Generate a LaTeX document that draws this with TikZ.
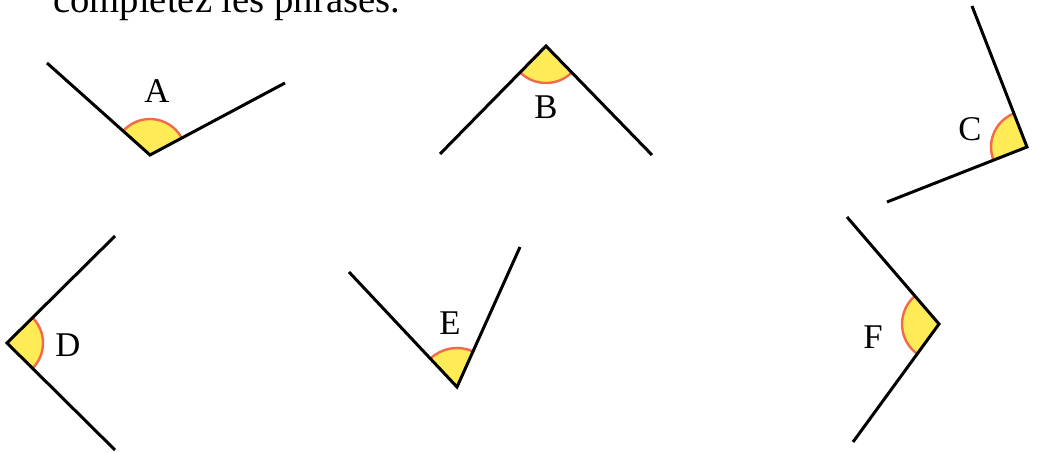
\documentclass[tikz,border=0pt]{standalone}
\usepackage{fontspec}
\setmainfont{Liberation Serif}
\definecolor{secfill}{HTML}{FFEB55}
\definecolor{secline}{HTML}{F26A4B}
\tikzset{
  ray/.style={line width=2.25pt, draw=black, line cap=butt},
  arcline/.style={line width=1.8pt, draw=secline},
  secarea/.style={fill=secfill},
  lbl/.style={font=\fontsize{26}{30}\selectfont, inner sep=0pt},
}
\newcommand\angmark[4]{%
  \fill[secarea] (#1) -- ++(#2:#4) arc[start angle=#2, end angle=#3, radius=#4] -- cycle;
  \draw[arcline] (#1) ++(#2:#4) arc[start angle=#2, end angle=#3, radius=#4];
}
\begin{document}
\begin{tikzpicture}[x=0.75pt, y=0.75pt]
\useasboundingbox (0,0) rectangle (1038,453);
\node[anchor=base west, inner sep=0pt, font=\fontsize{29}{34}\selectfont] (title) at (53,440) {complétez les phrases.};
% A
\coordinate (Av) at (150,298); \coordinate (Al) at (47,390); \coordinate (Ar) at (285,370);
\angmark{Av}{28.1}{138.2}{27pt}
\draw[ray] (Al) -- (Av) -- (Ar);
\node[lbl] (A) at (157,362) {A};
% B
\coordinate (Bv) at (546,407); \coordinate (Bl) at (440,299); \coordinate (Br) at (652,298);
\angmark{Bv}{225.5}{314.2}{27.75pt}
\draw[ray] (Bl) -- (Bv) -- (Br);
\node[lbl] (B) at (546,345.5) {B};
% C
\coordinate (Cv) at (1027,306); \coordinate (Ct) at (972,447); \coordinate (Cl) at (887,251);
\angmark{Cv}{111.3}{201.4}{27pt}
\draw[ray] (Ct) -- (Cv) -- (Cl);
\node[lbl] (C) at (970,324) {C};
% D
\coordinate (Dv) at (7,110); \coordinate (Du) at (115,217); \coordinate (Dd) at (115,3);
\angmark{Dv}{-44.7}{44.7}{27pt}
\draw[ray] (Du) -- (Dv) -- (Dd);
\node[lbl] (D) at (68,108) {D};
% E
\coordinate (Ev) at (457,66); \coordinate (El) at (349,181); \coordinate (Er) at (520,206);
\angmark{Ev}{65.8}{133.2}{29.25pt}
\draw[ray] (El) -- (Ev) -- (Er);
\node[lbl] (E) at (450,130) {E};
% F
\coordinate (Fv) at (939,129); \coordinate (Fu) at (847,236); \coordinate (Fd) at (853,11);
\angmark{Fv}{130.7}{233.9}{27.75pt}
\draw[ray] (Fu) -- (Fv) -- (Fd);
\node[lbl] (F) at (873,116) {F};
\end{tikzpicture}
\end{document}
